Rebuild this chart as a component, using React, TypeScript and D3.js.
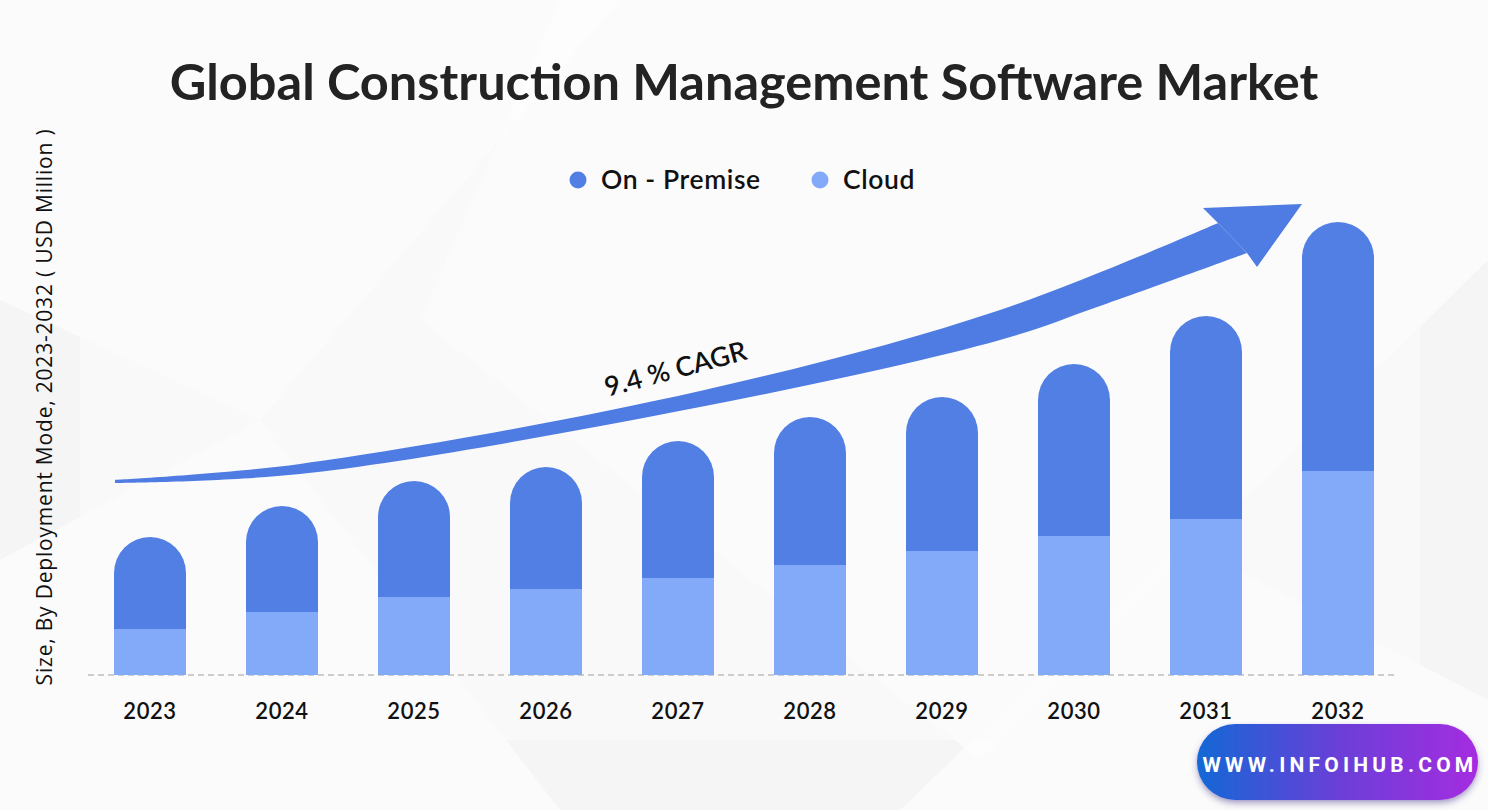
import React, { useEffect, useRef } from 'react';
import * as d3 from 'd3';

// values in USD Million
const years = ['2023', '2024', '2025', '2026', '2027', '2028', '2029', '2030', '2031', '2032'];
const cloud = [460, 630, 780, 860, 970, 1100, 1240, 1390, 1560, 2040];
const onPremise = [920, 1060, 1160, 1220, 1370, 1480, 1540, 1720, 2030, 2490];
const seriesNames = ['On - Premise', 'Cloud'];
const seriesColors = ['#527fe4', '#82aaf9'];

// growth arrow outline (decoration)
const arrowTop: [number, number][] = [[115, 480], [300, 464], [700, 391], [1000, 310], [1218, 223]];
const arrowBottom: [number, number][] = [[1247, 253], [1100, 306], [1000, 340], [700, 407], [300, 474], [115, 483]];
const arrowHead: [number, number][] = [[1203, 208], [1302, 204], [1257, 267], [1247, 253], [1218, 223]];

const W = 1488;
const H = 810;

export default function App() {
  const svgRef = useRef<SVGSVGElement>(null);

  useEffect(() => {
    if (!svgRef.current) return;
    const svg = d3.select(svgRef.current);
    svg.selectAll('*').remove();

    const defs = svg.append('defs');
    const grad = defs.append('linearGradient').attr('id', 'btnGrad').attr('x1', '0%').attr('x2', '100%');
    grad.append('stop').attr('offset', '0%').attr('stop-color', '#1368d6');
    grad.append('stop').attr('offset', '50%').attr('stop-color', '#6a3fd8');
    grad.append('stop').attr('offset', '100%').attr('stop-color', '#a52ce0');
    const shadow = defs.append('filter').attr('id', 'btnShadow').attr('x', '-10%').attr('y', '-20%').attr('width', '120%').attr('height', '150%');
    shadow.append('feDropShadow').attr('dx', 0).attr('dy', 3).attr('stdDeviation', 3).attr('flood-color', '#3a2a80').attr('flood-opacity', 0.5);

    // background
    svg.append('rect').attr('width', W).attr('height', H).attr('fill', '#f5f5f6');
    const bg = svg.append('g');
    const bgShapes = [
      'M0,0 L620,0 L260,420 L0,300 Z',
      'M560,0 L1488,0 L1488,260 L980,760 L420,320 Z',
      'M0,560 L260,420 L560,810 L0,810 Z',
      'M900,810 L1180,540 L1488,700 L1488,810 Z',
    ];
    bg.selectAll('path').data(bgShapes).enter().append('path')
      .attr('d', d => d).attr('fill', '#ffffff').attr('opacity', 0.6);
    svg.append('rect').attr('x', 80).attr('y', 120).attr('width', 1340).attr('height', 620).attr('fill', '#fcfcfc').attr('opacity', 0.55);

    // title
    svg.append('text')
      .attr('x', 744).attr('y', 100)
      .attr('text-anchor', 'middle')
      .attr('font-family', 'Lato, sans-serif')
      .attr('font-weight', 700)
      .attr('font-size', 50.5)
      .attr('fill', '#232323')
      .text('Global Construction Management Software Market');

    // legend
    const legendX = [578, 820];
    seriesNames.forEach((name, i) => {
      svg.append('circle').attr('cx', legendX[i]).attr('cy', 180).attr('r', 8.5).attr('fill', seriesColors[i]);
      svg.append('text')
        .attr('x', legendX[i] + 23).attr('y', 189)
        .attr('font-family', 'Lato, sans-serif')
        .attr('font-weight', 600)
        .attr('font-size', 26.5)
        .attr('letter-spacing', 0.6)
        .attr('fill', '#111')
        .text(name);
    });

    // y label
    svg.append('text')
      .attr('transform', 'translate(52,407) rotate(-90)')
      .attr('text-anchor', 'middle')
      .attr('font-family', '"Open Sans", sans-serif')
      .attr('font-size', 21)
      .attr('letter-spacing', 0.8)
      .attr('fill', '#111')
      .text('Size, By Deployment Mode, 2023-2032 ( USD Million )');

    // scales
    const x = d3.scaleBand<string>().domain(years).range([84, 1404]).paddingInner(60 / 132).paddingOuter(30 / 132);
    const y = d3.scaleLinear().domain([0, 5000]).range([675, 175]);
    const bw = x.bandwidth();
    const r = bw / 2;

    // baseline
    svg.append('line')
      .attr('x1', 88).attr('x2', 1398).attr('y1', y(0)).attr('y2', y(0))
      .attr('stroke', '#a0a0a0').attr('stroke-width', 1.2).attr('stroke-dasharray', '6 4');

    // arrow
    const line = d3.line().curve(d3.curveCatmullRom.alpha(0.5));
    const topPath = line(arrowTop) as string;
    const botPath = (line(arrowBottom) as string).replace(/^M/, 'L');
    svg.append('path').attr('d', topPath + botPath + 'Z').attr('fill', '#4f7ce3');
    svg.append('path').attr('d', 'M' + arrowHead.map(p => p.join(',')).join('L') + 'Z').attr('fill', '#4f7ce3');

    // CAGR label
    svg.append('text')
      .attr('transform', 'translate(678,378) rotate(-15)')
      .attr('text-anchor', 'middle')
      .attr('font-family', 'Lato, sans-serif')
      .attr('font-weight', 600)
      .attr('font-size', 27)
      .attr('fill', '#111')
      .text('9.4 % CAGR');

    // bars
    const bars = svg.append('g');
    years.forEach((yr, i) => {
      const x0 = x(yr) as number;
      const x1 = x0 + bw;
      const yc = y(cloud[i]);
      const yt = y(cloud[i] + onPremise[i]);
      bars.append('rect')
        .attr('x', x0).attr('y', yc).attr('width', bw).attr('height', y(0) - yc)
        .attr('fill', seriesColors[1]);
      bars.append('path')
        .attr('d', `M${x0},${yc} L${x0},${yt + r} A${r},${r} 0 0 1 ${x1},${yt + r} L${x1},${yc} Z`)
        .attr('fill', seriesColors[0]);
    });

    // x labels
    svg.append('g').selectAll('text').data(years).enter().append('text')
      .attr('x', d => (x(d) as number) + bw / 2)
      .attr('y', 719)
      .attr('text-anchor', 'middle')
      .attr('font-family', 'Lato, sans-serif')
      .attr('font-weight', 600)
      .attr('font-size', 22)
      .attr('letter-spacing', 0.6)
      .attr('fill', '#111')
      .text(d => d);

    // watermark button
    const btn = svg.append('g');
    btn.append('rect')
      .attr('x', 1193).attr('y', 720).attr('width', 289).attr('height', 84).attr('rx', 42)
      .attr('fill', '#ffffff').attr('opacity', 0.9);
    btn.append('rect')
      .attr('x', 1197).attr('y', 724).attr('width', 281).attr('height', 76).attr('rx', 38)
      .attr('fill', 'url(#btnGrad)').attr('filter', 'url(#btnShadow)');
    btn.append('text')
      .attr('x', 1340).attr('y', 772)
      .attr('text-anchor', 'middle')
      .attr('font-family', 'Roboto, sans-serif')
      .attr('font-weight', 700)
      .attr('font-size', 21)
      .attr('letter-spacing', 4.2)
      .attr('fill', '#ffffff')
      .text('WWW.INFOIHUB.COM');
  }, []);

  return (
    <svg
      ref={svgRef}
      width={W}
      height={H}
      style={{ position: 'fixed', left: 0, top: 0, display: 'block' }}
    />
  );
}
